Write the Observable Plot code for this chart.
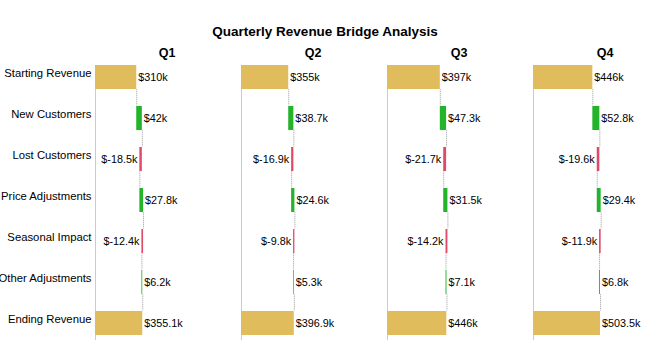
<!DOCTYPE html>
<html>
<head>
<meta charset="utf-8">
<script src="https://cdn.jsdelivr.net/npm/d3@7"></script>
<script src="https://cdn.jsdelivr.net/npm/@observablehq/plot@0.6"></script>
<style>
  html, body { margin: 0; padding: 0; background: #fff; overflow: hidden; width: 650px; height: 361px; }
  #wrap { position: relative; width: 650px; height: 361px; overflow: hidden; }
  #title { position: absolute; left: 0; top: 25px; width: 650px; text-align: center;
    font-family: "Liberation Sans", Arial, sans-serif; font-weight: bold; font-size: 13.5px; line-height: 14px; color: #000; z-index: 2; }
  #chart { position: absolute; left: 0; top: 0; width: 677px; }
  #chart svg { max-width: none !important; }
</style>
</head>
<body>
<div id="wrap">
  <div id="title">Quarterly Revenue Bridge Analysis</div>
  <div id="chart"></div>
</div>
<script>
const quarters = ["Q1", "Q2", "Q3", "Q4"];
const categories = ["Starting Revenue", "New Customers", "Lost Customers", "Price Adjustments", "Seasonal Impact", "Other Adjustments", "Ending Revenue"];
const startingRevenue = [310, 355, 397, 446];
const newCustomers = [42, 38.7, 47.3, 52.8];
const lostCustomers = [-18.5, -16.9, -21.7, -19.6];
const priceAdjustments = [27.8, 24.6, 31.5, 29.4];
const seasonalImpact = [-12.4, -9.8, -14.2, -11.9];
const otherAdjustments = [6.2, 5.3, 7.1, 6.8];
const endingRevenue = [355.1, 396.9, 446, 503.5];

const GOLD = "#e0bc5c", GREEN = "#24b42c", RED = "#e04a6a";

const bars = [];
const links = [];
quarters.forEach((q, qi) => {
  const changes = [newCustomers[qi], lostCustomers[qi], priceAdjustments[qi], seasonalImpact[qi], otherAdjustments[qi]];
  let cum = startingRevenue[qi];
  bars.push({q, cat: categories[0], x1: 0, x2: cum, end: cum, v: startingRevenue[qi], kind: "total"});
  links.push({q, from: categories[0], to: categories[1], x: cum});
  changes.forEach((d, i) => {
    const s = cum; cum = +(cum + d).toFixed(1);
    bars.push({q, cat: categories[i + 1], x1: s, x2: cum, end: cum, v: d, kind: d >= 0 ? "up" : "down"});
    links.push({q, from: categories[i + 1], to: categories[i + 2], x: cum});
  });
  bars.push({q, cat: categories[6], x1: 0, x2: endingRevenue[qi], end: endingRevenue[qi], v: endingRevenue[qi], kind: "total"});
});
const colorOf = d => d.kind === "total" ? GOLD : d.kind === "up" ? GREEN : RED;
const fmt = v => "$" + v + "k";

const height = 361, marginTop = 44, marginBottom = 6, yPad = 0.42;
const step = (height - marginTop - marginBottom) / (categories.length + yPad);
const bw = step * (1 - yPad);

const chart = Plot.plot({
  width: 677,
  height,
  marginLeft: 94,
  marginRight: 0,
  marginTop,
  marginBottom,
  style: {fontFamily: "'Liberation Sans', Arial, sans-serif", background: "#fff", maxWidth: "none"},
  fx: {domain: quarters, axis: null, padding: 0.02},
  x: {domain: [0, 1075], axis: null},
  y: {domain: categories, axis: null, padding: yPad},
  color: {type: "identity"},
  marks: [
    Plot.ruleX(quarters, {fx: d => d, x: () => 0, y1: () => categories[0], y2: () => categories[6], insetBottom: -5, stroke: "#cccccc", strokeWidth: 1}),
    Plot.ruleX(links, {fx: "q", x: "x", y1: "from", y2: "to", insetTop: bw, insetBottom: bw, stroke: "#9a9a9a", strokeWidth: 1, strokeDasharray: "1,1"}),
    Plot.barX(bars, {fx: "q", y: "cat", x1: "x1", x2: "x2", fill: colorOf}),
    Plot.text(bars.filter(d => d.kind !== "down"), {fx: "q", y: "cat", x: "end", text: d => fmt(d.v), textAnchor: "start", dx: 1.5, fontSize: 10.8, fill: "#000"}),
    Plot.text(bars.filter(d => d.kind === "down"), {fx: "q", y: "cat", x: "end", text: d => fmt(d.v), textAnchor: "end", dx: -2.5, fontSize: 10.8, fill: "#000"}),
    Plot.text(quarters, {fx: d => d, text: d => d, frameAnchor: "top", lineAnchor: "middle", dy: 8.5, fontSize: 12.5, fontWeight: "bold", fill: "#000"}),
    Plot.text(categories, {fx: () => "Q1", y: d => d, text: d => d, frameAnchor: "left", textAnchor: "end", dx: -4, dy: -4, fontSize: 11.3, fill: "#000"})
  ]
});
document.getElementById("chart").appendChild(chart);
</script>
</body>
</html>
